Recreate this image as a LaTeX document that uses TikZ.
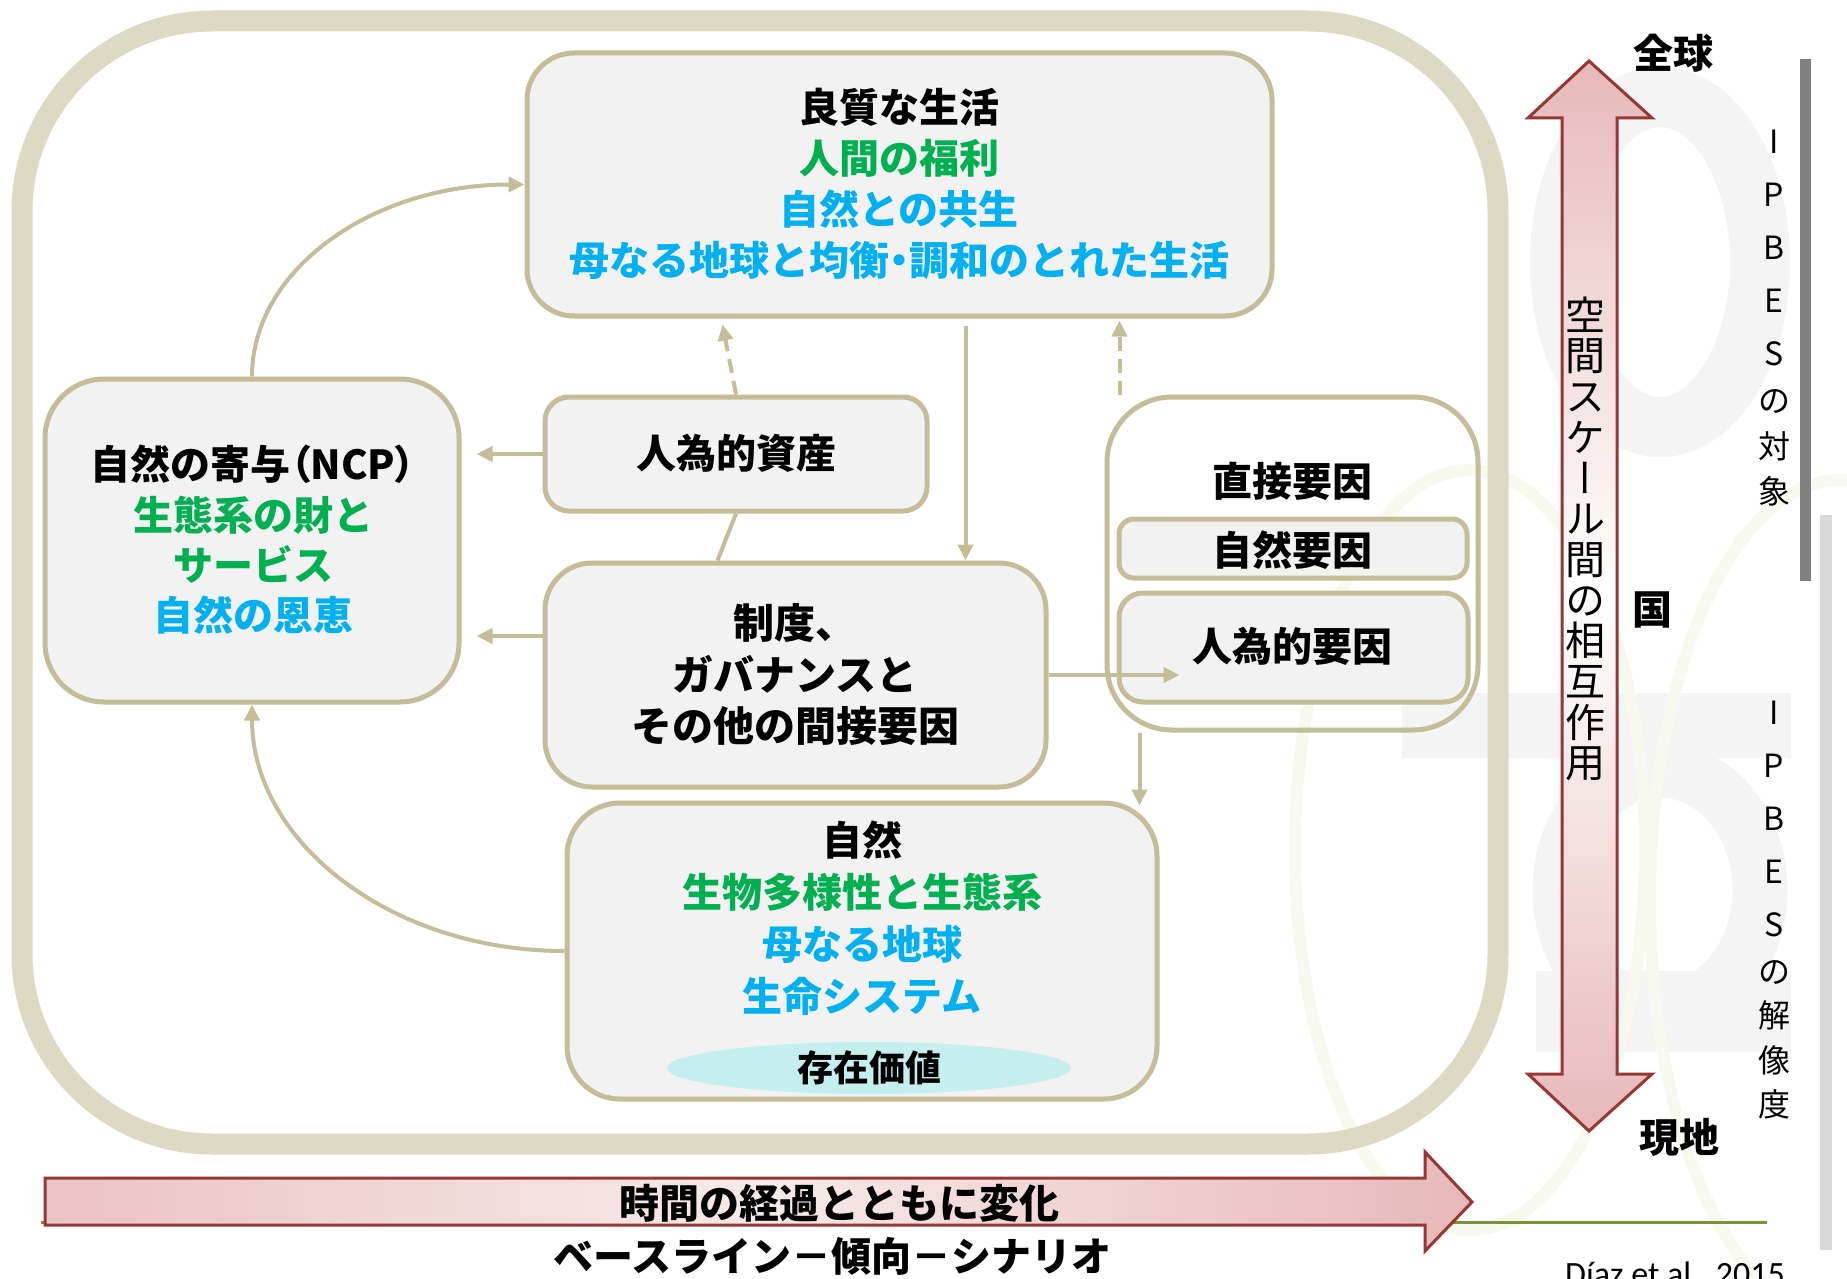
\documentclass[tikz,border=0pt]{standalone}
\usepackage{fontspec}
\usepackage{graphicx}
\setmainfont{Noto Sans CJK JP}
\newfontfamily\vjp{Noto Sans CJK JP}[RawFeature=+vert]
\newfontfamily\calib{Carlito}
\usetikzlibrary{arrows.meta,calc,shapes.geometric}
\newcommand{\tightlines}{\lineskiplimit=-100pt\relax}
\newcommand{\pp}[1]{{\addfontfeature{RawFeature=+palt}#1}}
\definecolor{framec}{HTML}{DDD9C3}
\definecolor{bord}{HTML}{C4BD97}
\definecolor{boxfill}{HTML}{F2F2F2}
\definecolor{jgreen}{HTML}{00B050}
\definecolor{jblue}{HTML}{00B0F0}
\definecolor{dred}{HTML}{953735}
\definecolor{pinkA}{HTML}{E6B9B8}
\definecolor{olivec}{HTML}{77933C}
\definecolor{cyanE}{HTML}{C5EEEE}
\definecolor{wmgray}{HTML}{F4F4F4}
\definecolor{wmgreen}{HTML}{F7F8EE}
\tikzset{
  box/.style={draw=bord, line width=5pt, fill=boxfill, inner sep=0pt},
  conn/.style={draw=bord, line width=4pt, -{Triangle[length=16pt,width=15pt]}},
  dconn/.style={conn, dash pattern=on 14pt off 8pt},
  plainconn/.style={draw=bord, line width=4pt},
  big/.style={font=\fontsize{40}{51}\selectfont\bfseries, align=center, inner sep=0pt},
  vlabel/.style={font=\fontsize{32}{53}\selectfont, align=center, inner sep=0pt},
  vtext/.style={font={\vjp\fontsize{40}{40.7}\selectfont\tightlines}, align=center, inner sep=0pt},
}
\begin{document}
\begin{tikzpicture}[x=1pt,y=-1pt]
\useasboundingbox (0,0) rectangle (1847,1279);
\fill[white] (0,0) rectangle (1847,1279);

% faint watermark
\fill[wmgray] (1402,693) rectangle (1791,758);
\fill[wmgray] (1536,971) rectangle (1791,1052);
\draw[wmgray, line width=60pt] (1660,262) ellipse (100 and 165);
\draw[wmgray, line width=55pt] (1660,890) ellipse (100 and 120);
\draw[wmgreen, line width=12pt] (1470,850) ellipse (175 and 380);
\draw[wmgreen, line width=12pt] (1840,900) ellipse (190 and 420);

% outer frame
\draw[framec, line width=21pt, rounded corners=190pt] (22,21) rectangle (1498,1144);

% boxes
\node[box, rounded corners=47pt, minimum width=745pt, minimum height=263pt] (top) at (899.5,184.5) {};
\node[big] (toptext) at (899,184) {良質な生活\\\textcolor{jgreen}{人間の福利}\\\textcolor{jblue}{自然との共生}\\\textcolor{jblue}{母なる地球と均衡\pp{・}調和のとれた生活}};

\node[box, rounded corners=59pt, minimum width=414pt, minimum height=323pt] (ncp) at (252,540.5) {};
\node[big, font=\fontsize{40}{50.3}\selectfont\bfseries] (ncptext) at (253,540) {自然の寄与\pp{（}NCP\pp{）}\\\textcolor{jgreen}{生態系の財と}\\\textcolor{jgreen}{サービス}\\\textcolor{jblue}{自然の恩恵}};

\node[box, rounded corners=24pt, minimum width=382pt, minimum height=114pt] (assets) at (736,454) {};
\node[big] (assetstext) at (736,453) {人為的資産};

\node[box, rounded corners=47pt, minimum width=501pt, minimum height=224pt] (inst) at (795.5,675) {};
\node[big, font=\fontsize{41}{51.5}\selectfont\bfseries] (insttext) at (795,675) {制度、\\ガバナンスと\\その他の間接要因};

\node[box, fill=none, rounded corners=65pt, minimum width=371pt, minimum height=333pt] (direct) at (1292.5,563.5) {};
\node[big] (directtext) at (1292,481) {直接要因};
\node[box, rounded corners=15pt, minimum width=348pt, minimum height=59pt] (natf) at (1293,548.5) {};
\node[big] (natftext) at (1292,550) {自然要因};
\node[box, rounded corners=24pt, minimum width=349pt, minimum height=109pt] (humf) at (1293.5,647.5) {};
\node[big] (humftext) at (1292,646) {人為的要因};

\node[box, rounded corners=53pt, minimum width=590pt, minimum height=296pt] (nature) at (862,951) {};
\node[big, font=\fontsize{40}{52}\selectfont\bfseries] (naturetext) at (862,918) {自然\\\textcolor{jgreen}{生物多様性と生態系}\\\textcolor{jblue}{母なる地球}\\\textcolor{jblue}{生命システム}};
\node[ellipse, fill=cyanE, minimum width=404pt, minimum height=52pt, inner sep=0pt] (exist) at (869,1068) {};
\node[big, font=\fontsize{36}{40}\selectfont\bfseries] (existtext) at (869,1068) {存在価値};

% connectors
\draw[conn] (assets.west) -- ([xshift=15pt]ncp.east |- assets.west);
\draw[conn] ([yshift=39pt]inst.west) -- ([xshift=15pt,yshift=39pt]ncp.east |- inst.west);
\draw[plainconn] (assets.south) -- ([xshift=-78pt]inst.north);
\draw[dconn] (assets.north) -- ([xshift=-177pt,yshift=-6pt]top.south);
\draw[conn] ([xshift=66pt,yshift=-7pt]top.south) -- ([xshift=66pt]top.south |- inst.north);
\draw[dconn] ([xshift=-173pt]direct.north) -- ([xshift=-173pt,yshift=-2pt]direct.north |- top.south);
\draw[conn] (inst.east) -- ([xshift=63pt]humf.west |- inst.east);
\draw[conn] ([xshift=-153pt]direct.south) -- ([xshift=-153pt,yshift=-5pt]direct.south |- nature.north);
\draw[conn] (ncp.north) .. controls +(0,-107) and +(-152,0) .. (top.west);
\draw[conn] (nature.west) .. controls +(-174,0) and +(0,137) .. (ncp.south);

% spatial scale arrow
\draw[dred, line width=3pt, line join=miter, top color=pinkA, bottom color=pinkA, middle color=white]
  (1589,61) -- (1652,118) -- (1617,118) -- (1617,1074) -- (1652,1074) -- (1589,1131)
  -- (1528,1074) -- (1562,1074) -- (1562,118) -- (1528,118) -- cycle;
\node[vtext] (spatial) at (1585,539)
  {空\\間\\ス\\ケ\\ー\\ル\\間\\の\\相\\互\\作\\用};

\node[big] (global) at (1673,53) {全球};
\node[big] (nation) at (1652,610) {国};
\node[big] (local) at (1679,1137) {現地};

% gray bars
\fill[gray!100] (1800,59) rectangle (1811,581);
\fill[black!15] (1820,515) rectangle (1832,1250);
\node[vlabel] (scope) at (1774,318) {I\\P\\B\\E\\S\\[-6pt]の\\[-7pt]対\\[-8pt]象};
\node[vlabel] (resol) at (1774,910) {I\\P\\B\\E\\S\\[-6pt]の\\[-9pt]解\\[-8pt]像\\[-9pt]度};

% time arrow
\draw[olivec, line width=3pt] (41,1222) -- (1767,1222);
\draw[dred, line width=3pt, line join=miter, left color=pinkA!85, right color=pinkA, middle color=pinkA!30]
  (45,1178) -- (1425,1178) -- (1425,1152) -- (1472,1202) -- (1425,1251) -- (1425,1225) -- (45,1225) -- cycle;
\node[big] (timetext) at (839,1203) {時間の経過とともに変化};
\node[big] (basetext) at (832,1256) {ベースライン－傾向－シナリオ};
\node[font=\calib\fontsize{34}{40}\selectfont, anchor=north, inner sep=0pt] (cite) at (1675,1262) {Díaz et al., 2015};
\end{tikzpicture}
\end{document}
